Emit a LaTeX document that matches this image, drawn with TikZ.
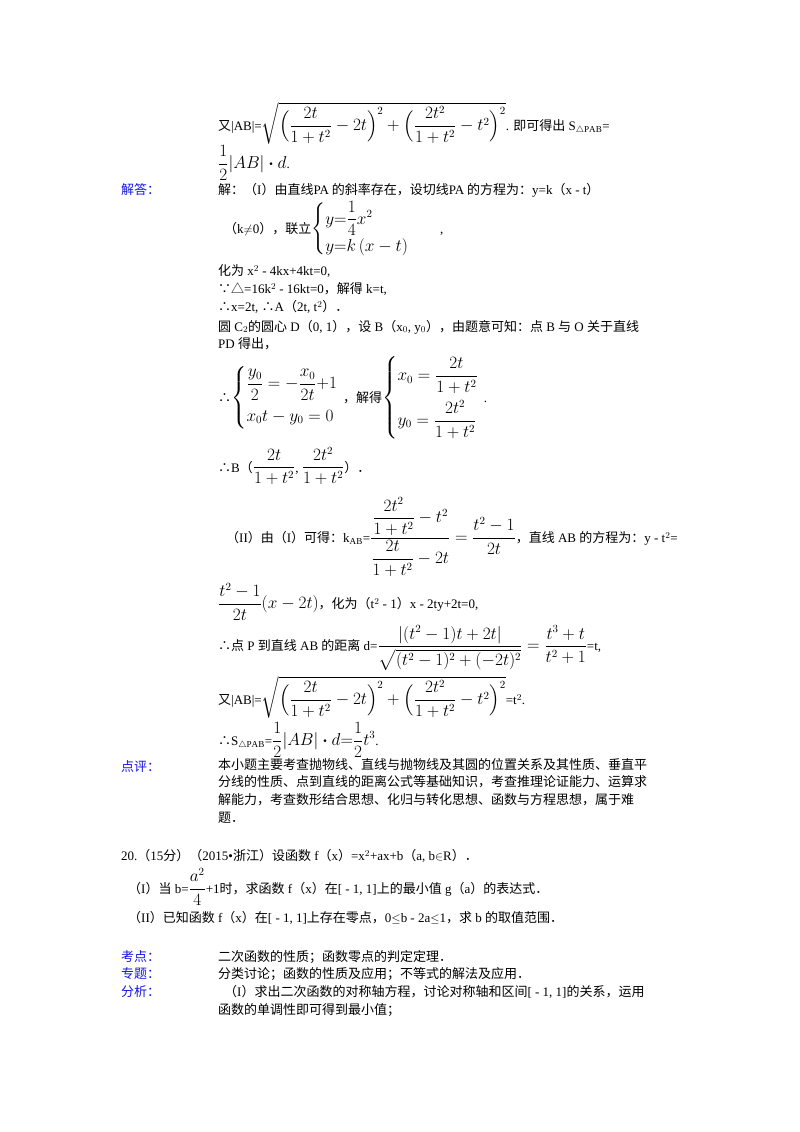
\documentclass[tikz,border=0pt]{standalone}
\usepackage{fontspec}
\usepackage{amsmath}
\setmainfont{Liberation Serif}
\newfontfamily\cjk{Noto Sans CJK SC}
\newcommand\zh[1]{{\cjk #1}}
\newcommand\M[1]{{\fontsize{16}{19}\selectfont$\displaystyle #1$}}
\definecolor{lblue}{RGB}{20,20,230}
\begin{document}
\begin{tikzpicture}[x=1pt,y=-1pt,
 tx/.style={anchor=west,inner sep=0pt,font=\fontsize{13}{17}\selectfont},
 lb/.style={tx,text=lblue}]
\useasboundingbox (0,0) rectangle (800,1132);
\node[tx] (l1) at (218,123) {\zh{又}|AB|=\M{\sqrt{\Big(\frac{2t}{1+t^2}-2t\Big)^2+\Big(\frac{2t^2}{1+t^2}-t^2\Big)^2}}. \zh{即可得出} S$_{\triangle\mathrm{PAB}}$=};
\node[tx] (l2) at (218,163) {\M{\frac{1}{2}|AB|\boldsymbol{\cdot}d}.};
\node[lb] (k1) at (121,190) {\zh{解答：}};
\node[tx] (l3) at (218,190) {\zh{解：（}I\zh{）由直线}PA\zh{ 的斜率存在，设切线}PA\zh{ 的方程为：}y=k\zh{（}x - t\zh{）}};
\node[tx] (l4) at (224,229) {\zh{（}k$\neq$0\zh{），联立}\M{\left\{\begin{array}{@{}l}y{=}\dfrac14x^2\\[8pt] y{=}k\,(x-t)\end{array}\right.}\qquad ,};
\node[tx] (l5) at (218,271) {\zh{化为} x$^2$ - 4kx+4kt=0,};
\node[tx] (l6) at (218,289) {\zh{∵△}=16k$^2$ - 16kt=0\zh{，解得} k=t,};
\node[tx] (l7) at (218,307) {\zh{∴}x=2t, \zh{∴}A\zh{（}2t, t$^2$\zh{）．}};
\node[tx] (l8) at (218,327) {\zh{圆} C$_2$\zh{的圆心} D\zh{（}0, 1\zh{），设} B\zh{（}x$_0$, y$_0$\zh{），由题意可知：点} B \zh{与} O \zh{关于直线}};
\node[tx] (l9) at (218,344) {PD \zh{得出，}};
\node[tx] (l10) at (218,398) {\zh{∴}\M{\left\{\begin{array}{@{}l}\dfrac{y_0}{2}=-\dfrac{x_0}{2t}{+}1\\[14pt] x_0t-y_0=0\end{array}\right.}\zh{，解得}\M{\left\{\begin{array}{@{}l}x_0=\dfrac{2t}{1+t^2}\\[14pt] y_0=\dfrac{2t^2}{1+t^2}\end{array}\right.}.};
\node[tx] (l11) at (218,466) {\zh{∴}B\zh{（}\M{\frac{2t}{1+t^2}}, \M{\frac{2t^2}{1+t^2}}\zh{）．}};
\node[tx] (l12) at (226,537) {\zh{（}II\zh{）由（}I\zh{）可得：}k$_{\mathrm{AB}}$=\M{\frac{\dfrac{2t^2}{1+t^2}-t^2}{\dfrac{2t}{1+t^2}-2t}=\frac{t^2-1}{2t}}\zh{，直线} AB \zh{的方程为：}y - t$^2$=};
\node[tx] (l13) at (218,602) {\M{\frac{t^2-1}{2t}(x-2t)}\zh{，化为（}t$^2$ - 1\zh{）}x - 2ty+2t=0,};
\node[tx] (l14) at (218,648) {\zh{∴点} P \zh{到直线} AB \zh{的距离} d=\M{\frac{|(t^2-1)t+2t|}{\sqrt{(t^2-1)^2+(-2t)^2}}=\frac{t^3+t}{t^2+1}}=t,};
\node[tx] (l15) at (218,697) {\zh{又}|AB|=\M{\sqrt{\Big(\frac{2t}{1+t^2}-2t\Big)^2+\Big(\frac{2t^2}{1+t^2}-t^2\Big)^2}}=t$^2$.};
\node[tx] (l16) at (218,740) {\zh{∴}S$_{\triangle\mathrm{PAB}}$=\M{\frac12|AB|\boldsymbol{\cdot}d{=}\frac12t^3}.};
\node[lb] (k2) at (121,767) {\zh{点评：}};
\node[tx,align=left,anchor=north west,font=\fontsize{13}{17.7}\selectfont\cjk] (l17) at (218,758) {本小题主要考查抛物线、直线与抛物线及其圆的位置关系及其性质、垂直平\\分线的性质、点到直线的距离公式等基础知识，考查推理论证能力、运算求\\解能力，考查数形结合思想、化归与转化思想、函数与方程思想，属于难\\题．};
\node[tx] (q1) at (121,856) {20.\zh{（}15\zh{分）（}2015•\zh{浙江）设函数} f\zh{（}x\zh{）}=x$^2$+ax+b\zh{（}a, b$\in$R\zh{）．}};
\node[tx] (q2) at (128,887) {\zh{（}I\zh{）当} b=\M{\frac{a^2}{4}}+1\zh{时，求函数} f\zh{（}x\zh{）在}[ - 1, 1]\zh{上的最小值} g\zh{（}a\zh{）的表达式．}};
\node[tx] (q3) at (128,918) {\zh{（}II\zh{）已知函数} f\zh{（}x\zh{）在}[ - 1, 1]\zh{上存在零点，}0$\leq$b - 2a$\leq$1\zh{，求} b \zh{的取值范围．}};
\node[lb] (k3) at (121,957) {\zh{考点：}};
\node[tx] (a1) at (218,957) {\zh{二次函数的性质；函数零点的判定定理．}};
\node[lb] (k4) at (121,974) {\zh{专题：}};
\node[tx] (a2) at (218,974) {\zh{分类讨论；函数的性质及应用；不等式的解法及应用．}};
\node[lb] (k5) at (121,992) {\zh{分析：}};
\node[tx] (a3) at (224,992) {\zh{（}I\zh{）求出二次函数的对称轴方程，讨论对称轴和区间}[ - 1, 1]\zh{的关系，运用}};
\node[tx] (a4) at (218,1010) {\zh{函数的单调性即可得到最小值；}};
\end{tikzpicture}
\end{document}
